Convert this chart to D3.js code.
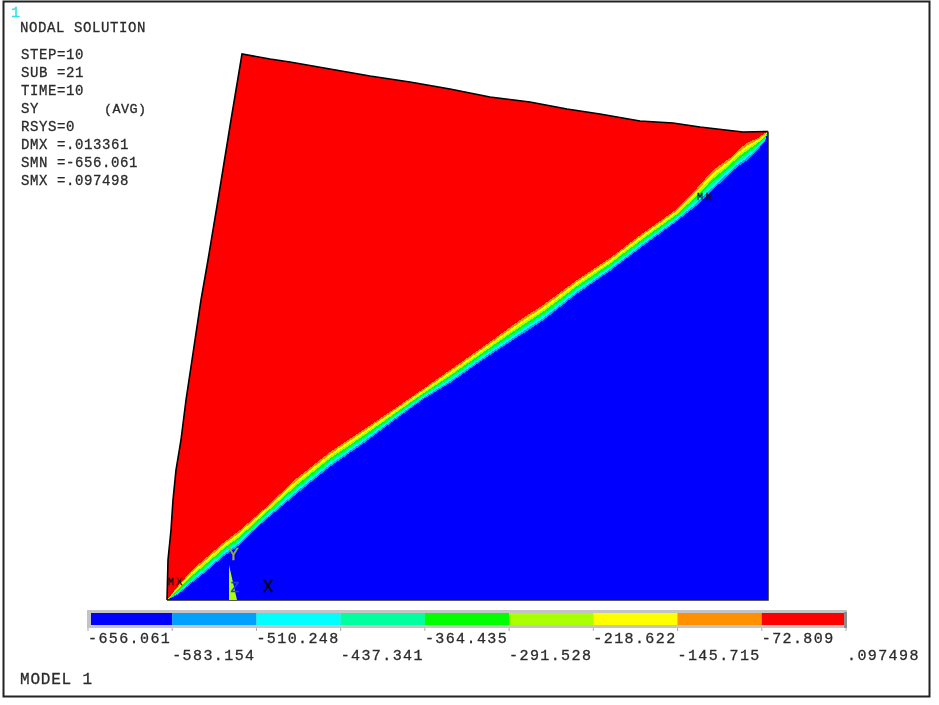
<!DOCTYPE html>
<html><head><meta charset="utf-8">
<script src="https://cdn.jsdelivr.net/npm/d3@7"></script>
<style>html,body{margin:0;padding:0;background:#fff}svg{display:block}text{font-family:"Liberation Mono",monospace;fill:#2b2b2b}</style>
</head><body><svg id="c" width="939" height="705"></svg>
<script>
// Model outline (clockwise from the lower-left corner)
const leftEdge=[[0,0],[0.1,4],[0.4,7],[0.6,10],[0.9,13],[1.4,16],[1.9,20],[2.5,24],[3.4,30],[4.1,34],[5.1,40],[6.4,48],[7.5,54.6]];
const topEdge=[[10.3,54.1],[12.3,53.8],[16.3,53.1],[20.3,52.4],[24.3,51.8],[28.3,51.1],[32.3,50.3],[36.3,49.8],[40,49.1],[43.3,48.6],[47.3,47.9],[50.6,47.7],[53.3,47.3],[57.6,46.8],[60.1,46.85]];
const corner=[[60.1,0]];
// Contour band limits at shared stations: upper limit of the orange band and lower limit of the sky-blue band
const stations=[0,1.1,2.5,4,5.6,7.3,9.6,13,16.3,19.6,23,25.6,28.3,32,35.3,37.6,41,44.3,47.6,51,53,54.6,56.3,57.1,58,59.1,59.8,60.1];
const redEdge=[0,1.4,3,4.3,5.7,7,9,12.2,14.8,17,19.3,21.1,23,25.6,28,29.5,32,34.2,36.7,39.1,41.2,43,44.2,45,45.7,46.2,46.7,46.85];
const blueEdge=[0,0.4,1.5,2.7,4.1,5.3,7.6,10.4,13.1,15.4,18,19.9,21.5,24.1,26.2,27.7,30.4,32.7,35.2,37.7,39.2,40.7,42.4,43.1,43.7,44.9,45.7,46.85];
const bandShare=[0,0.13,0.26,0.38,0.5,0.62,0.74,0.86,1];
// Legend
const levels=[-656.061,-583.154,-510.248,-437.341,-364.435,-291.528,-218.622,-145.715,-72.809,0.097498];
const levelLabels=["-656.061","-583.154","-510.248","-437.341","-364.435","-291.528","-218.622","-145.715","-72.809",".097498"];
const colors=["#0000ff","#00a0ff","#00ffff","#00ff9f","#00ff00","#aaff00","#ffff00","#ff9000","#ff0000"];
// Annotation text
const infoLines=["STEP=10","SUB =21","TIME=10","SY","RSYS=0","DMX =.013361","SMN =-656.061","SMX =.097498"];
const triadSpike=[[6.2,3.5],[6.2,0],[7,0]];

const svg=d3.select("#c");
const defs=svg.append("defs");
defs.append("filter").attr("id","soft").attr("x","-2%").attr("y","-2%").attr("width","104%").attr("height","104%")
  .append("feGaussianBlur").attr("stdDeviation",0.5);
defs.append("filter").attr("id","softT").attr("x","-5%").attr("y","-20%").attr("width","110%").attr("height","140%")
  .append("feGaussianBlur").attr("stdDeviation",0.4);

const x=d3.scaleLinear().domain([0,60.1]).range([167,768]);
const y=d3.scaleLinear().domain([0,46.9]).range([600,131]);
const legendX=d3.scaleLinear().domain([levels[0],levels[9]]).range([88,846]);
const line=d3.line().x(d=>x(d[0])).y(d=>y(d[1]));

// Outer frame
svg.append("rect").attr("x",3.5).attr("y",1.5).attr("width",926).attr("height",695)
  .attr("fill","#fff").attr("stroke","#222").attr("stroke-width",2);

// Contour field, painted from red towards blue
const plot=svg.append("g").attr("filter","url(#soft)");
const outline=[...leftEdge,...topEdge];
plot.append("path").attr("d",line([...outline,...corner])+"Z").attr("fill",colors[8]);
const bands=plot.append("g").attr("shape-rendering","crispEdges");
bandShare.forEach((s,i)=>{
  const contour=stations.map((sx,k)=>[sx,d3.interpolateNumber(redEdge[k],blueEdge[k])(s)]);
  bands.append("path").attr("d",line([...contour,...corner])+"Z").attr("fill",colors[7-i]||colors[0]);
});
plot.append("path").attr("d",line(outline)).attr("fill","none").attr("stroke","#000").attr("stroke-width",1.6);
plot.append("path").attr("d",line([topEdge[topEdge.length-1],corner[0],leftEdge[0]])).attr("fill","none").attr("stroke","#222").attr("stroke-width",1.5);
plot.append("path").attr("d",line(triadSpike)+"Z").attr("fill",colors[5]);

// Legend bar
const legend=svg.append("g").attr("filter","url(#soft)");
legend.append("rect").attr("x",87).attr("y",610).attr("width",760).attr("height",18).attr("fill","#c4c4c4");
legend.append("rect").attr("x",844).attr("y",612).attr("width",3).attr("height",16).attr("fill","#8c8c8c");
legend.selectAll("rect.seg").data(colors).join("rect").attr("class","seg")
  .attr("x",(d,i)=>i==0?91:legendX(levels[i])).attr("y",613)
  .attr("width",(d,i)=>(i==8?844:legendX(levels[i+1]))-(i==0?91:legendX(levels[i]))).attr("height",12)
  .attr("fill",d=>d);
legend.selectAll("line").data(levels).join("line")
  .attr("x1",d=>legendX(d)).attr("x2",d=>legendX(d)).attr("y1",628).attr("y2",631)
  .attr("stroke","#aaa");

// Text
const t=svg.append("g").attr("filter","url(#softT)");
function label(s,px,py,size,sp,col){
  const e=t.append("text").attr("x",px).attr("y",py).attr("font-size",size).attr("letter-spacing",sp)
    .style("stroke",col||"#2b2b2b").style("stroke-width",0.3).text(s);
  if(col)e.style("fill",col);
  return e;
}
label("1",11,17,15,0,"#30e0e0");
label("NODAL SOLUTION",20,32,14,0.6);
infoLines.forEach((s,i)=>label(s,21,59+i*18,14,0.6));
label("(AVG)",104,113,13.5,0.4);
label("MODEL 1",20,684,16,0.8);
levelLabels.forEach((s,i)=>label(s,legendX(levels[i])+(i==9?1:0),i%2?660:642.5,15,1.4));
label("MX",x(0.1),y(1.5)-.5,10,2.5,"#111");
label("MN",x(53),y(40.1)+.5,10,2.5,"#113");
label("Y",x(6.1),y(4.0)-.5,18,0,"#98b040");
label("Z",x(6.35),y(0.8),15,0,"#2040e0");
label("X",x(9.55),y(0.8),18,0,"#000");
</script></body></html>
